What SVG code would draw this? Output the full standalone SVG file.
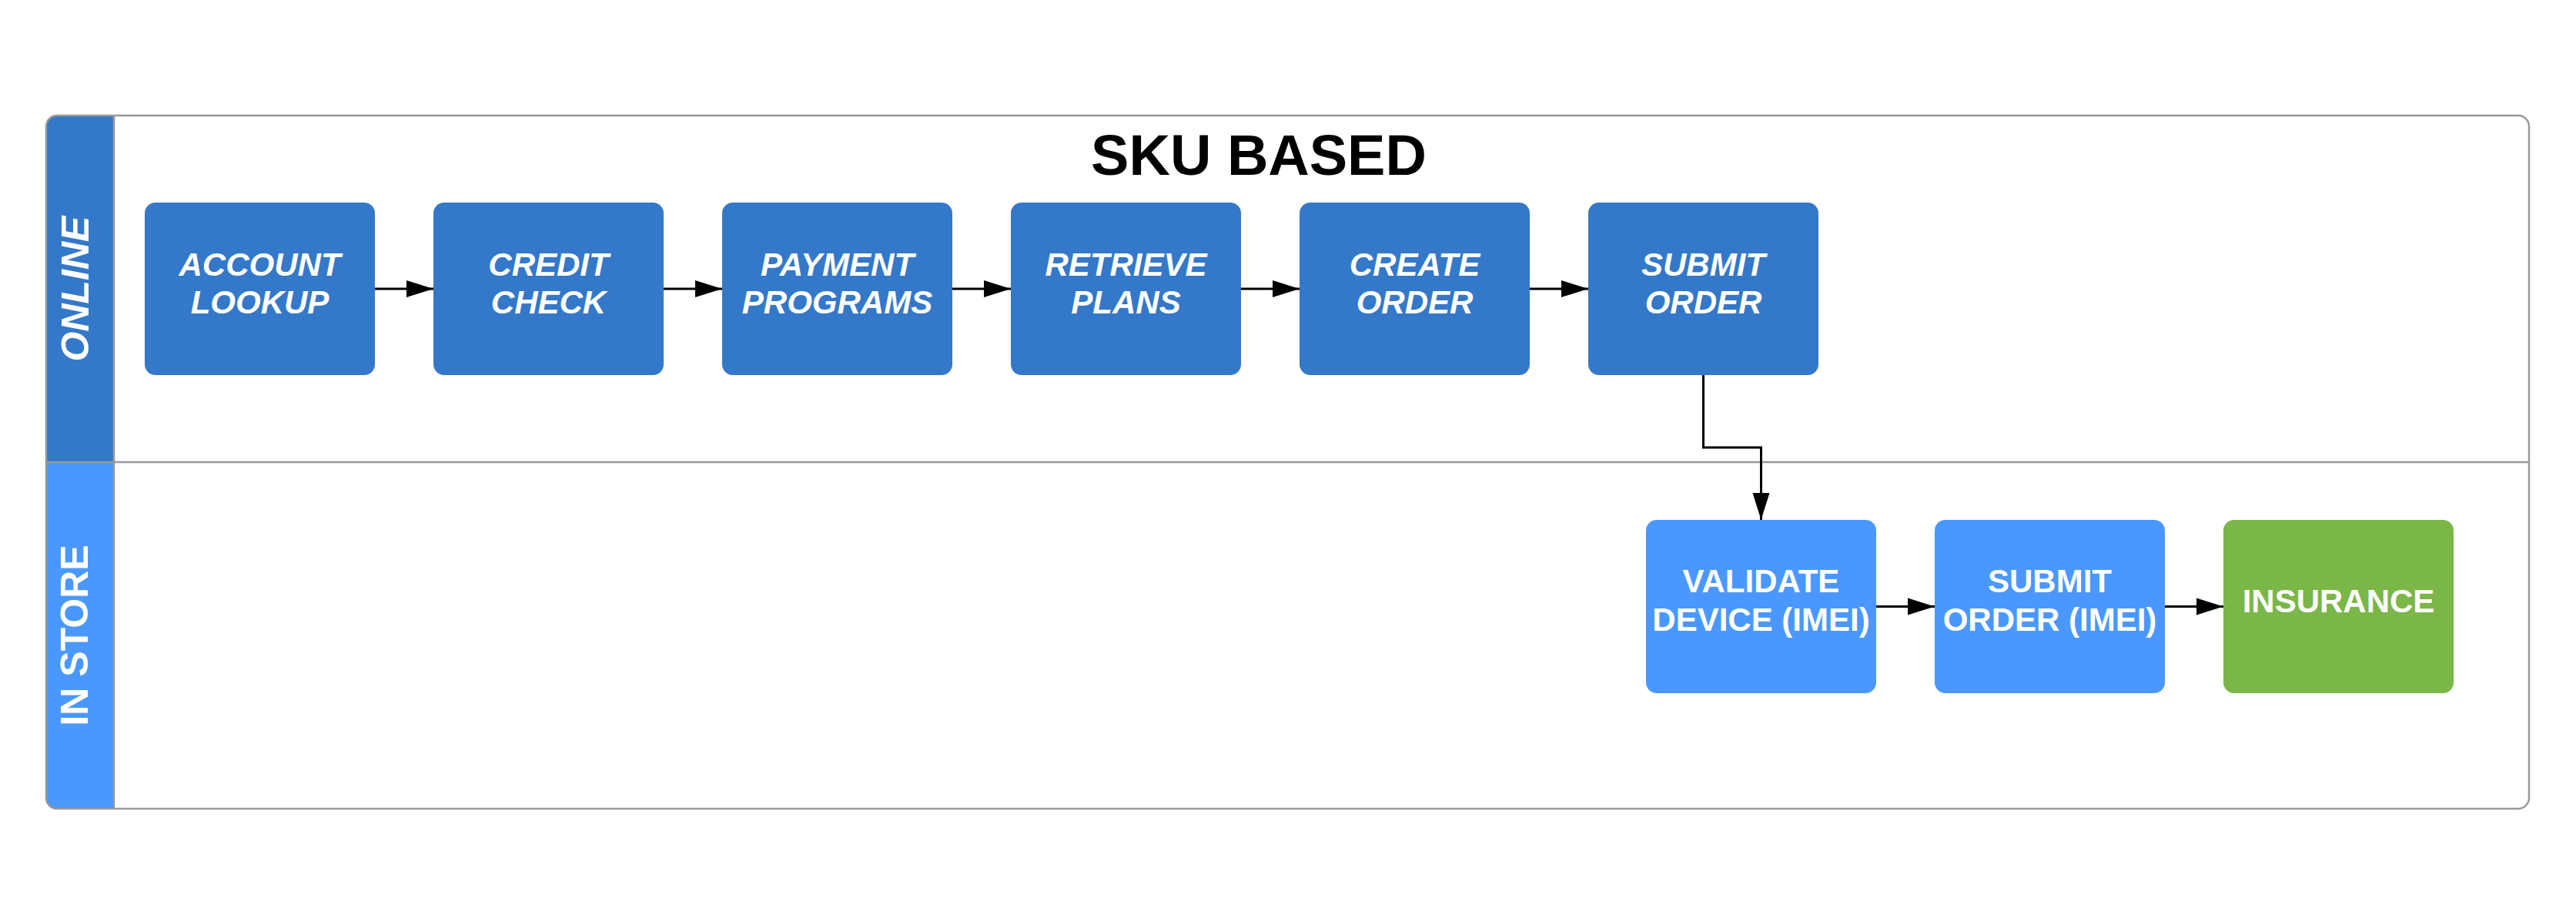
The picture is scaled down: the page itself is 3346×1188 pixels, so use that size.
<svg xmlns="http://www.w3.org/2000/svg" width="3346" height="1188" viewBox="0 0 3346 1188">
<style>
.frame{fill:none;stroke:#999999;stroke-width:2.5}
.sep{stroke:#999999;stroke-width:2.5}
.on{fill:#3478C9}
.st{fill:#4A98FF}
.gr{fill:#7AB648}
.lt{font-family:"Liberation Sans",Arial,sans-serif;font-weight:bold;font-size:42px;fill:#ffffff;text-anchor:middle}
.it{font-style:italic}
.lane{font-family:"Liberation Sans",Arial,sans-serif;font-weight:bold;font-size:50px;fill:#ffffff;text-anchor:middle}
.title{font-family:"Liberation Sans",Arial,sans-serif;font-weight:bold;font-size:74px;fill:#000000;text-anchor:middle}
.conn{fill:none;stroke:#000000;stroke-width:3}
</style>
<defs>
<marker id="ah" markerWidth="36" markerHeight="24" refX="35" refY="12" orient="auto" markerUnits="userSpaceOnUse">
<path d="M0,1 L35,12 L0,23 Z" fill="#000000"/>
</marker>
</defs>
<rect width="3346" height="1188" fill="#ffffff"/>
<g id="pool">
<path class="on" d="M148,150 H74 A14,14 0 0 0 60,164 V600 H148 Z"/>
<path class="st" d="M148,600 H60 V1036 A14,14 0 0 0 74,1050 H148 Z"/>
<rect class="frame" x="60" y="150" width="3225" height="900" rx="14" ry="14"/>
<line class="sep" x1="148" y1="150" x2="148" y2="1050"/>
<line class="sep" x1="60" y1="600" x2="3285" y2="600"/>
<text class="lane it" transform="translate(115,375) rotate(-90)">ONLINE</text>
<text class="lane" transform="translate(114,825) rotate(-90)">IN STORE</text>
<text class="title" x="1635" y="227">SKU BASED</text>
</g>
<g id="n1"><rect class="on" x="188" y="263" width="299" height="224" rx="14"/><text class="lt it" x="337.5" y="358">ACCOUNT</text><text class="lt it" x="337.5" y="407">LOOKUP</text></g>
<g id="n2"><rect class="on" x="563" y="263" width="299" height="224" rx="14"/><text class="lt it" x="712.5" y="358">CREDIT</text><text class="lt it" x="712.5" y="407">CHECK</text></g>
<g id="n3"><rect class="on" x="938" y="263" width="299" height="224" rx="14"/><text class="lt it" x="1087.5" y="358">PAYMENT</text><text class="lt it" x="1087.5" y="407">PROGRAMS</text></g>
<g id="n4"><rect class="on" x="1313" y="263" width="299" height="224" rx="14"/><text class="lt it" x="1462.5" y="358">RETRIEVE</text><text class="lt it" x="1462.5" y="407">PLANS</text></g>
<g id="n5"><rect class="on" x="1688" y="263" width="299" height="224" rx="14"/><text class="lt it" x="1837.5" y="358">CREATE</text><text class="lt it" x="1837.5" y="407">ORDER</text></g>
<g id="n6"><rect class="on" x="2063" y="263" width="299" height="224" rx="14"/><text class="lt it" x="2212.5" y="358">SUBMIT</text><text class="lt it" x="2212.5" y="407">ORDER</text></g>
<g id="n7"><rect class="st" x="2138" y="675" width="299" height="225" rx="14"/><text class="lt" x="2287.5" y="769">VALIDATE</text><text class="lt" x="2287.5" y="819">DEVICE (IMEI)</text></g>
<g id="n8"><rect class="st" x="2513" y="675" width="299" height="225" rx="14"/><text class="lt" x="2662.5" y="769">SUBMIT</text><text class="lt" x="2662.5" y="819">ORDER (IMEI)</text></g>
<g id="n9"><rect class="gr" x="2888" y="675" width="299" height="225" rx="14"/><text class="lt" x="3037.5" y="795">INSURANCE</text></g>
<g id="connectors">
<line class="conn" x1="487" y1="375" x2="563" y2="375" marker-end="url(#ah)"/>
<line class="conn" x1="862" y1="375" x2="938" y2="375" marker-end="url(#ah)"/>
<line class="conn" x1="1237" y1="375" x2="1313" y2="375" marker-end="url(#ah)"/>
<line class="conn" x1="1612" y1="375" x2="1688" y2="375" marker-end="url(#ah)"/>
<line class="conn" x1="1987" y1="375" x2="2063" y2="375" marker-end="url(#ah)"/>
<path class="conn" d="M2212.5,487 V581 H2287.5 V675" marker-end="url(#ah)"/>
<line class="conn" x1="2437" y1="787.5" x2="2513" y2="787.5" marker-end="url(#ah)"/>
<line class="conn" x1="2812" y1="787.5" x2="2888" y2="787.5" marker-end="url(#ah)"/>
</g>
</svg>
